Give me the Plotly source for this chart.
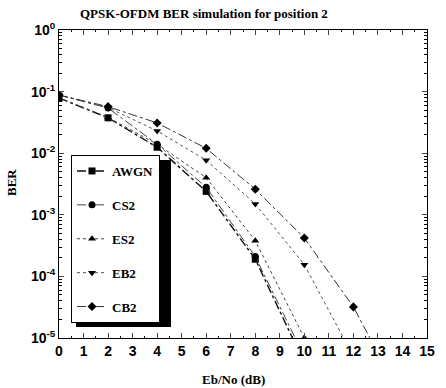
import plotly.graph_objects as go

# ---- data ----
snr_awgn = [0, 2, 4, 6, 8, 10]
ber_awgn = [0.0786, 0.0375, 0.0125, 0.0024, 1.9e-4, 3.9e-6]
snr_cs2 = [0, 2, 4, 6, 8, 10]
ber_cs2 = [0.088, 0.054, 0.014, 0.0028, 2.1e-4, 5e-6]
snr_es2 = [0, 2, 4, 6, 8, 10]
ber_es2 = [0.080, 0.038, 0.014, 0.0040, 3.8e-4, 1e-5]
snr_eb2 = [0, 2, 4, 6, 8, 10, 12]
ber_eb2 = [0.088, 0.055, 0.023, 0.0077, 0.0015, 1.55e-4, 5e-6]
snr_cb2 = [0, 2, 4, 6, 8, 10, 12, 14]
ber_cb2 = [0.088, 0.057, 0.031, 0.012, 0.0026, 4.2e-4, 3.2e-5, 1e-6]

series_names = ["AWGN", "CS2", "ES2", "EB2", "CB2"]
x_ticks = list(range(0, 16))
y_tickvals = [1, 1e-1, 1e-2, 1e-3, 1e-4, 1e-5]
y_ticktext = ["10<sup>0</sup>", "10<sup>-1</sup>", "10<sup>-2</sup>",
              "10<sup>-3</sup>", "10<sup>-4</sup>", "10<sup>-5</sup>"]

styles = [
    dict(symbol="square", dash="dashdot", color="#111111", width=1.4),
    dict(symbol="circle", dash="dashdot", color="#444444", width=1),
    dict(symbol="triangle-up", dash="dot", color="#444444", width=1),
    dict(symbol="triangle-down", dash="dot", color="#555555", width=1),
    dict(symbol="diamond", dash="dashdot", color="#333333", width=1),
]
data = [(snr_awgn, ber_awgn), (snr_cs2, ber_cs2), (snr_es2, ber_es2),
        (snr_eb2, ber_eb2), (snr_cb2, ber_cb2)]

W, H = 446, 388
ml, mr, mt, mb = 59, 19, 30, 50

fig = go.Figure()
for name, (xs, ys), st in zip(series_names, data, styles):
    fig.add_trace(go.Scatter(
        x=xs, y=ys, name=name, mode="lines+markers", legendgroup=name,
        line=dict(color=st["color"], width=st["width"], dash=st["dash"]),
        marker=dict(symbol=st["symbol"], size=7, color="black"),
    ))

def px2paper(px, py):
    return (px - ml) / (W - ml - mr), (H - mb - py) / (H - mt - mb)

# legend shadow
sx0, sy0 = px2paper(76, 160)
sx1, sy1 = px2paper(171, 327)
fig.add_shape(type="rect", xref="paper", yref="paper", x0=sx0, y0=sy1, x1=sx1, y1=sy0,
              fillcolor="black", line=dict(width=0), layer="above")

lx, ly = px2paper(71, 155)

serif = "Liberation Serif"
sans = "Liberation Sans"
fig.update_layout(
    width=W, height=H, margin=dict(l=ml, r=mr, t=mt, b=mb, autoexpand=False),
    paper_bgcolor="white", plot_bgcolor="white",
    showlegend=True,
    legend=dict(x=lx, y=ly, xanchor="left", yanchor="top",
                bgcolor="white", bordercolor="black", borderwidth=1,
                font=dict(family=serif, size=13, color="black", weight="bold"),
                tracegroupgap=14, itemwidth=30),
    xaxis=dict(range=[0, 15], tickvals=x_ticks, ticks="inside", ticklen=5,
               showline=True, linecolor="black", linewidth=1, mirror="ticks",
               showgrid=False, zeroline=False, automargin=False,
               tickfont=dict(family=sans, size=14, color="black", weight="bold"),
               minor=dict(ticks="inside", ticklen=2, dtick=0.5, tickcolor="black")),
    yaxis=dict(type="log", range=[-5, 0], tickvals=y_tickvals, ticktext=y_ticktext,
               ticks="inside", ticklen=5, showline=True, linecolor="black", linewidth=1,
               mirror="ticks", showgrid=False, zeroline=False, automargin=False,
               tickfont=dict(family=sans, size=14, color="black", weight="bold"),
               minor=dict(ticks="inside", ticklen=3, dtick="D1", tickcolor="black")),
)
fig.add_annotation(text="QPSK-OFDM BER simulation for position 2", xref="paper", yref="paper",
                   x=(204 - ml) / (W - ml - mr), y=1, yanchor="bottom", xanchor="center",
                   yshift=7, showarrow=False,
                   font=dict(family=serif, size=13, color="black", weight="bold"))
fig.add_annotation(text="Eb/No (dB)", xref="paper", yref="paper",
                   x=(233 - ml) / (W - ml - mr), y=0, yanchor="top", xanchor="center",
                   yshift=-32, showarrow=False,
                   font=dict(family=serif, size=13, color="black", weight="bold"))
fig.add_annotation(text="BER", xref="paper", yref="paper", textangle=-90,
                   x=0, y=(338 - 183) / (H - mt - mb), xanchor="center", yanchor="middle",
                   xshift=-(ml - 11), showarrow=False,
                   font=dict(family=serif, size=13, color="black", weight="bold"))

fig.write_html("out.html")
